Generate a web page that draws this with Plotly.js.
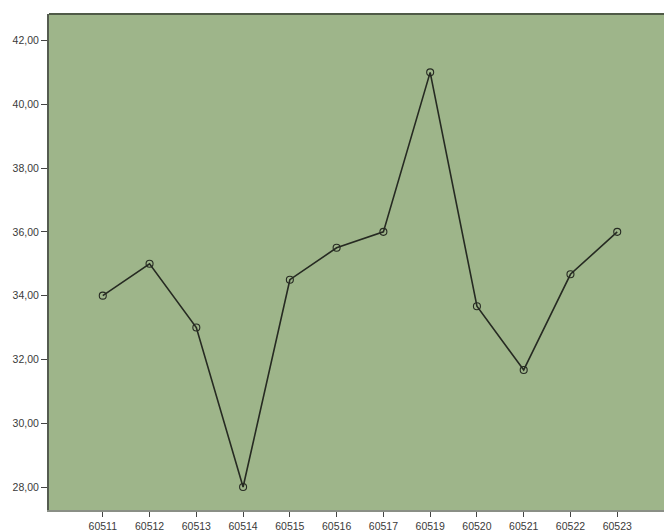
<!DOCTYPE html>
<html>
<head>
<meta charset="utf-8">
<script src="https://cdn.plot.ly/plotly-3.0.1.min.js"></script>
<style>html,body{margin:0;padding:0;background:#fff;}#chart{width:664px;height:532px;}</style>
</head>
<body>
<div id="chart"></div>
<script>
const categories = ["60511","60512","60513","60514","60515","60516","60517","60519","60520","60521","60522","60523"];
const values = [34.0, 35.0, 33.0, 28.0, 34.5, 35.5, 36.0, 41.0, 33.67, 31.67, 34.67, 36.0];
const yTicks = [28, 30, 32, 34, 36, 38, 40, 42];

const trace = {
  x: categories,
  y: values,
  type: "scatter",
  mode: "lines+markers",
  line: {color: "#262a22", width: 1.6},
  marker: {symbol: "circle-open", size: 7, color: "#262a22", line: {width: 1.1, color: "#262a22"}},
  hoverinfo: "x+y"
};

const layout = {
  width: 664,
  height: 532,
  margin: {l: 49, r: 0, t: 14, b: 22, pad: 0},
  paper_bgcolor: "#ffffff",
  plot_bgcolor: "#9eb58a",
  separators: ",.",
  showlegend: false,
  font: {family: "Liberation Sans, Arial, sans-serif", size: 10.5, color: "#333"},
  xaxis: {
    type: "category",
    categoryorder: "array",
    categoryarray: categories,
    range: [-1.15, 12.0],
    showgrid: false,
    zeroline: false,
    showline: true,
    linecolor: "#8a8f86",
    linewidth: 2,
    ticks: "outside",
    ticklen: 5,
    tickwidth: 1,
    tickcolor: "#444",
    tickfont: {size: 10.5, color: "#3a3a3a"}
  },
  yaxis: {
    range: [27.28, 42.83],
    tickvals: yTicks,
    tickformat: ".2f",
    showgrid: false,
    zeroline: false,
    showline: true,
    linecolor: "#555c50",
    linewidth: 2,
    ticks: "outside",
    ticklen: 6,
    tickwidth: 1,
    tickcolor: "#444",
    tickfont: {size: 10.5, color: "#3a3a3a"}
  },
  shapes: [
    {type: "line", xref: "paper", yref: "paper", x0: 0, x1: 1, y0: 1, y1: 1,
     line: {color: "#4f5a47", width: 2}}
  ]
};

Plotly.newPlot("chart", [trace], layout, {displayModeBar: false, staticPlot: true});
</script>
</body>
</html>
